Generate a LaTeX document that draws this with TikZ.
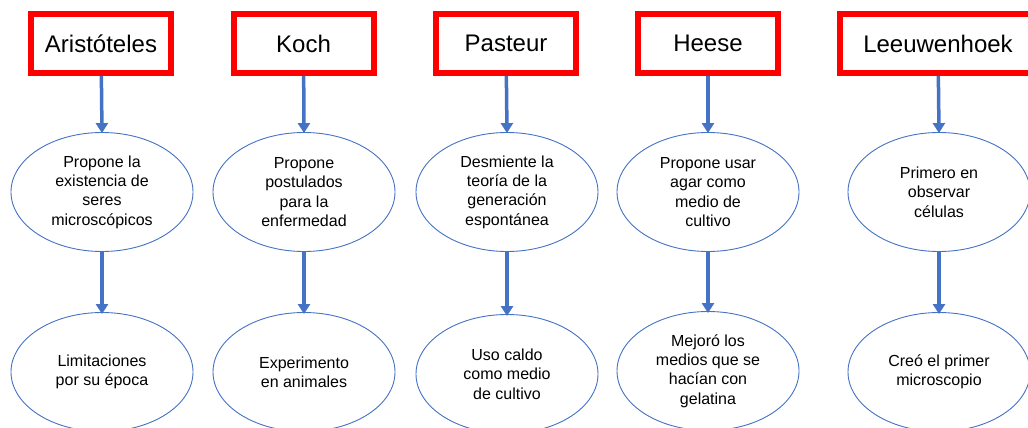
\documentclass[tikz,border=0pt]{standalone}
\usepackage{fontspec}
\setmainfont{Liberation Sans}
\usetikzlibrary{shapes.geometric,arrows.meta}
\definecolor{boxred}{RGB}{255,0,0}
\definecolor{flowblue}{RGB}{68,114,196}
\begin{document}
\begin{tikzpicture}[x=1pt, y=-1pt,
  namebox/.style={draw=boxred, line width=6pt, minimum width=140pt, minimum height=59pt,
    inner sep=0pt, font=\fontsize{24}{28}\selectfont},
  idea/.style={ellipse, draw=flowblue, line width=0.9pt, minimum width=182pt,
    minimum height=119pt, inner sep=0pt, align=center,
    font=\fontsize{16}{19.3}\selectfont},
  flow/.style={-{Triangle[width=12pt,length=10pt]}, draw=flowblue, line width=3.5pt}]
  \useasboundingbox (0,0) rectangle (1028,428);
  \clip (0,0) rectangle (1028,428);
  % names
  \node[namebox] (aris) at (101,43.5) {Aristóteles};
  \node[namebox] (koch) at (303.5,43.5) {Koch};
  \node[namebox] (past) at (506,43.5) {Pasteur};
  \node[namebox] (hees) at (708,43.5) {Heese};
  \node[namebox, minimum width=196pt] (leeu) at (938,43.5) {Leeuwenhoek};
  % first row
  \node[idea] (aris1) at (102,192) {Propone la\\existencia de\\seres\\microscópicos};
  \node[idea] (koch1) at (304,192) {Propone\\postulados\\para la\\enfermedad};
  \node[idea] (past1) at (507,192) {Desmiente la\\teoría de la\\generación\\espontánea};
  \node[idea] (hees1) at (708,192) {Propone usar\\agar como\\medio de\\cultivo};
  \node[idea] (leeu1) at (939,192) {Primero en\\observar\\células};
  % second row
  \node[idea] (aris2) at (102,372) {Limitaciones\\por su época};
  \node[idea] (koch2) at (304,372) {Experimento\\en animales};
  \node[idea] (past2) at (507,374) {Uso caldo\\como medio\\de cultivo};
  \node[idea] (hees2) at (708,371) {Mejoró los\\medios que se\\hacían con\\gelatina};
  \node[idea] (leeu2) at (939,372) {Creó el primer\\microscopio};
  % arrows
  \draw[flow] (aris) -- ([yshift=-1pt]aris1.north);
  \draw[flow] (koch) -- ([yshift=-1pt]koch1.north);
  \draw[flow] (past) -- ([yshift=-1pt]past1.north);
  \draw[flow] (hees) -- ([yshift=-1pt]hees1.north);
  \draw[flow] (leeu) -- ([yshift=-1pt]leeu1.north);
  \draw[flow] (aris1) -- ([yshift=-2pt]aris2.north);
  \draw[flow] (koch1) -- ([yshift=-2pt]koch2.north);
  \draw[flow] (past1) -- ([yshift=-2pt]past2.north);
  \draw[flow] (hees1) -- ([yshift=-2pt]hees2.north);
  \draw[flow] (leeu1) -- ([yshift=-2pt]leeu2.north);
\end{tikzpicture}
\end{document}
